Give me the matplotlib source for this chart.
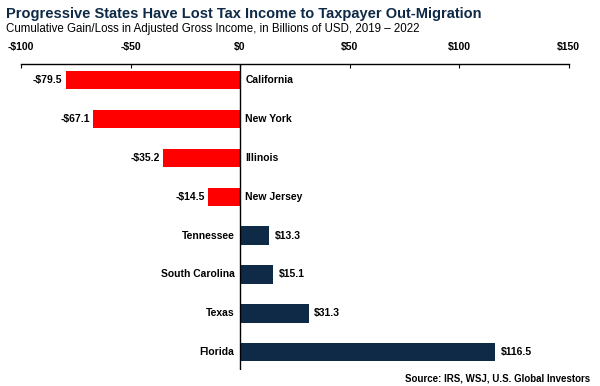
import matplotlib.pyplot as plt

states = ['California', 'New York', 'Illinois', 'New Jersey',
          'Tennessee', 'South Carolina', 'Texas', 'Florida']
values = [-79.5, -67.1, -35.2, -14.5, 13.3, 15.1, 31.3, 116.5]
ticks = [-100, -50, 0, 50, 100, 150]
tick_labels = ['-$100', '-$50', '$0', '$50', '$100', '$150']

plt.rcParams['font.family'] = ['Liberation Sans', 'DejaVu Sans']

red = '#ff0000'
navy = '#0e2a47'

fig = plt.figure(figsize=(6, 3.86), dpi=100)
ax = fig.add_axes([0.035, 0.041, 0.9125, 0.793])

colors = [red if v < 0 else navy for v in values]
ypos = list(range(len(states)))
ax.barh(ypos, values, height=0.47, color=colors)

# value at the bar end, state name on the other side of zero
for y, v, s in zip(ypos, values, states):
    lab = ('-$%.1f' % abs(v)) if v < 0 else ('$%.1f' % v)
    if v < 0:
        ax.text(v - 1.5, y, lab, ha='right', va='center', fontsize=7.5, weight='bold')
        ax.text(2.5, y, s, ha='left', va='center', fontsize=7.5, weight='bold')
    else:
        ax.text(v + 2.5, y, lab, ha='left', va='center', fontsize=7.5, weight='bold')
        ax.text(-2.5, y, s, ha='right', va='center', fontsize=7.5, weight='bold')

ax.axvline(0, color='black', lw=1)
ax.set_xlim(-100, 150)
ax.set_ylim(7.46, -0.41)
ax.xaxis.tick_top()
ax.set_xticks(ticks)
ax.set_xticklabels(tick_labels, fontsize=7.5, weight='bold')
ax.tick_params(axis='x', direction='in', length=3, pad=8.5)
ax.set_yticks([])
for sp in ['left', 'right', 'bottom']:
    ax.spines[sp].set_visible(False)
ax.spines['top'].set_linewidth(1)

fig.text(0.01, 0.965, 'Progressive States Have Lost Tax Income to Taxpayer Out-Migration',
         fontsize=10.5, weight='bold', color=navy, va='center')
fig.text(0.01, 0.925, 'Cumulative Gain/Loss in Adjusted Gross Income, in Billions of USD, 2019 \u2013 2022',
         fontsize=8.3, color='black', va='center')
fig.text(0.983, 0.02, 'Source: IRS, WSJ, U.S. Global Investors', fontsize=7,
         weight='bold', ha='right', va='center')

fig.savefig('out.png', dpi=100)
